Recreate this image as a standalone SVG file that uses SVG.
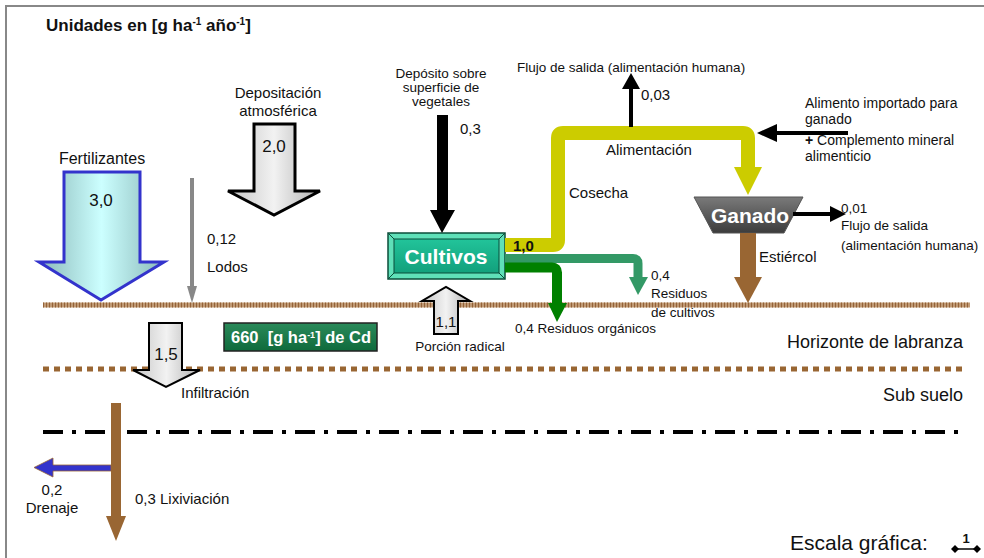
<svg xmlns="http://www.w3.org/2000/svg" width="984" height="558" viewBox="0 0 984 558">
  <style>
    text { font-family: "Liberation Sans", Arial, sans-serif; fill: #111; }
    .s13 { font-size: 13.5px; }
    .s14 { font-size: 14px; }
    .s15 { font-size: 15px; }
    .s16 { font-size: 16px; }
    .s18 { font-size: 18px; }
    .mid { text-anchor: middle; }
    .end { text-anchor: end; }
    .b { font-weight: bold; }
    .w { fill: #fff; }
  </style>
  <defs>
    <linearGradient id="gCyan" x1="0" y1="0" x2="1" y2="0">
      <stop offset="0" stop-color="#8ab8b8"/>
      <stop offset="0.5" stop-color="#ccffff"/>
      <stop offset="1" stop-color="#8ab8b8"/>
    </linearGradient>
    <linearGradient id="gGray" x1="0" y1="0" x2="1" y2="0">
      <stop offset="0" stop-color="#c4c4c4"/>
      <stop offset="0.5" stop-color="#f2f2f2"/>
      <stop offset="1" stop-color="#b0b0b0"/>
    </linearGradient>
    <linearGradient id="gTeal" x1="0" y1="0" x2="0" y2="1">
      <stop offset="0" stop-color="#22c49a"/>
      <stop offset="1" stop-color="#12a07c"/>
    </linearGradient>
    <linearGradient id="gDark" x1="0" y1="0" x2="0" y2="1">
      <stop offset="0" stop-color="#7a7a7a"/>
      <stop offset="1" stop-color="#3c3c3c"/>
    </linearGradient>
    <linearGradient id="gCd" x1="0" y1="0" x2="0" y2="1">
      <stop offset="0" stop-color="#2a8a5a"/>
      <stop offset="1" stop-color="#0f6a3c"/>
    </linearGradient>
  </defs>

  <rect width="984" height="558" fill="#fff"/>
  <!-- frame -->
  <path d="M6,558 V6 H984" fill="none" stroke="#888" stroke-width="2"/>

  <text x="46" y="31" font-size="17" class="b">Unidades en [g ha<tspan dy="-6" font-size="10">-1</tspan><tspan dy="6"> año</tspan><tspan dy="-6" font-size="10">-1</tspan><tspan dy="6">]</tspan></text>

  <!-- soil horizons -->
  <g id="horizons">
    <line x1="43" y1="305" x2="970" y2="305" stroke="#c09a75" stroke-width="5"/>
    <line x1="43" y1="305" x2="970" y2="305" stroke="#946238" stroke-width="5" stroke-dasharray="1 2"/>
    <line x1="43" y1="369" x2="966" y2="369" stroke="#996633" stroke-width="5" stroke-dasharray="6 5"/>
    <line x1="43" y1="432" x2="966" y2="432" stroke="#000" stroke-width="4" stroke-dasharray="20 9 4 9"/>
    <text x="963" y="348" class="s18 end">Horizonte de labranza</text>
    <text x="963" y="401" class="s18 end">Sub suelo</text>
  </g>

  <!-- nodes -->
  <g id="cultivos">
    <rect x="388" y="233" width="117" height="46" fill="#5fe0b8" stroke="#0b4d3a" stroke-width="1.5"/>
    <path d="M388,233 L394,239 M505,233 L499,239 M388,279 L394,273 M505,279 L499,273" stroke="#0b4d3a" stroke-width="1"/>
    <rect x="394" y="239" width="105" height="34" fill="url(#gTeal)" stroke="#0b4d3a" stroke-width="1"/>
    <text x="446" y="264" class="b w mid" font-size="21">Cultivos</text>
  </g>

  <g id="ganado">
    <polygon points="694,197 803,197 784,233 713,233" fill="url(#gDark)" stroke="#555" stroke-width="1"/>
    <text x="750" y="223" class="b w mid" font-size="21">Ganado</text>
  </g>

  <g id="cd">
    <rect x="224" y="323" width="153" height="28" fill="url(#gCd)" stroke="#222" stroke-width="1.5"/>
    <text x="231" y="343" font-size="16.5" class="b w" xml:space="preserve">660  [g ha<tspan dy="-5" font-size="9">-1</tspan><tspan dy="5">] de Cd</tspan></text>
  </g>

  <!-- flows -->
  <g id="connectors">
    <!-- fertilizer -->
    <text x="102" y="164" class="s16 mid">Fertilizantes</text>
    <polygon points="64,172 140,172 140,262 164,262 101,300 39,262 64,262" fill="url(#gCyan)" stroke="#3333cc" stroke-width="3" stroke-linejoin="miter"/>
    <text x="101" y="206" font-size="17" class="mid">3,0</text>

    <!-- atmospheric deposition -->
    <text x="278" y="98" class="s15 mid">Depositación</text>
    <text x="278" y="116" class="s15 mid">atmosférica</text>
    <polygon points="254,124 295,124 295,191 320,191 274,215 228,191 254,191" fill="url(#gGray)" stroke="#000" stroke-width="3"/>
    <text x="274" y="152" font-size="17" class="mid">2,0</text>

    <!-- sludge -->
    <line x1="192" y1="178" x2="192" y2="288" stroke="#888" stroke-width="4"/>
    <polygon points="187,286 197,286 192,303" fill="#888"/>
    <text x="207" y="244" class="s15">0,12</text>
    <text x="207" y="272" class="s15">Lodos</text>

    <!-- deposition on plant surface -->
    <text x="441" y="78" class="s13 mid">Depósito sobre</text>
    <text x="441" y="92" class="s13 mid">superficie de</text>
    <text x="441" y="106" class="s13 mid">vegetales</text>
    <polygon points="437,115 448,115 448,210 455,210 442,233 430,210 437,210" fill="#000"/>
    <text x="460" y="134" class="s15">0,3</text>

    <!-- root uptake -->
    <polygon points="434,334 458,334 458,301 470,301 446,287 422,301 434,301" fill="url(#gGray)" stroke="#000" stroke-width="2"/>
    <text x="446" y="327" class="s15 mid">1,1</text>
    <text x="460" y="351" class="s13 mid">Porción radical</text>

    <!-- harvest / feed -->
    <path d="M505,245 H553 Q558,245 558,240 V138 Q558,133 563,133 H743 Q748,133 748,138 V168" fill="none" stroke="#cccc00" stroke-width="14"/>
    <polygon points="734,167 762,167 748,195" fill="#cccc00"/>
    <text x="513" y="251" font-size="15" class="b">1,0</text>
    <text x="569" y="198" class="s15">Cosecha</text>
    <text x="606" y="155" class="s15">Alimentación</text>

    <!-- food output -->
    <line x1="631" y1="127" x2="631" y2="88" stroke="#000" stroke-width="4"/>
    <polygon points="622,89 640,89 631,73" fill="#000"/>
    <text x="641" y="100" class="s15">0,03</text>
    <text x="517" y="72" class="s13">Flujo de salida (alimentación humana)</text>

    <!-- imported feed -->
    <line x1="848" y1="133" x2="774" y2="133" stroke="#000" stroke-width="4"/>
    <polygon points="777,124 777,142 757,133" fill="#000"/>
    <text x="805" y="108" class="s14">Alimento importado para</text>
    <text x="805" y="124" class="s14">ganado</text>
    <text x="805" y="145" class="s14"><tspan font-weight="bold">+</tspan> Complemento mineral</text>
    <text x="805" y="161" class="s14">alimenticio</text>

    <!-- livestock output -->
    <line x1="793" y1="214" x2="832" y2="214" stroke="#000" stroke-width="4"/>
    <polygon points="830,206 830,222 846,214" fill="#000"/>
    <text x="841" y="213" class="s13">0,01</text>
    <text x="841" y="230" class="s13">Flujo de salida</text>
    <text x="841" y="250" class="s13">(alimentación humana)</text>

    <!-- manure -->
    <rect x="740" y="233" width="16" height="45" fill="#996633"/>
    <polygon points="734,277 762,277 748,303" fill="#996633"/>
    <text x="759" y="262" class="s15">Estiércol</text>

    <!-- crop residues -->
    <path d="M505,258.5 H633 Q638,258.5 638,263.5 V278" fill="none" stroke="#339966" stroke-width="9"/>
    <polygon points="629,277 648,277 638,295" fill="#339966"/>
    <text x="651" y="280" class="s13">0,4</text>
    <text x="651" y="298" class="s13">Residuos</text>
    <text x="651" y="317" class="s13">de cultivos</text>

    <!-- organic residues -->
    <path d="M505,267.5 H552 Q557,267.5 557,272.5 V304" fill="none" stroke="#008000" stroke-width="10"/>
    <polygon points="548,303 567,303 557,322" fill="#008000"/>
    <text x="515" y="333" class="s13">0,4 Residuos orgánicos</text>

    <!-- infiltration -->
    <polygon points="149,323 182,323 182,370 200,370 166,387 133,370 149,370" fill="url(#gGray)" stroke="#000" stroke-width="2"/>
    <text x="166" y="360" font-size="17" class="mid">1,5</text>
    <text x="181" y="398" class="s15">Infiltración</text>

    <!-- leaching -->
    <rect x="111" y="403" width="10" height="114" fill="#996633"/>
    <polygon points="106,516 126,516 116,541" fill="#996633"/>
    <text x="135" y="504" class="s15">0,3 Lixiviación</text>

    <!-- drainage -->
    <polygon points="111,465 53,465 53,458 34,467.5 53,477 53,471 111,471" fill="#3333cc" stroke="#996633" stroke-width="0.8"/>
    <text x="52" y="495" class="s15 mid">0,2</text>
    <text x="52" y="513" class="s15 mid">Drenaje</text>
  </g>

  <!-- graphic scale -->
  <g id="scale">
    <text x="790" y="550" font-size="21">Escala gráfica:</text>
    <line x1="955" y1="549" x2="977" y2="549" stroke="#000" stroke-width="1.5"/>
    <polygon points="955,545 959,549 955,553 951,549" fill="#000"/>
    <polygon points="977,545 981,549 977,553 973,549" fill="#000"/>
    <text x="966" y="543" font-size="13" class="b mid">1</text>
  </g>
</svg>
